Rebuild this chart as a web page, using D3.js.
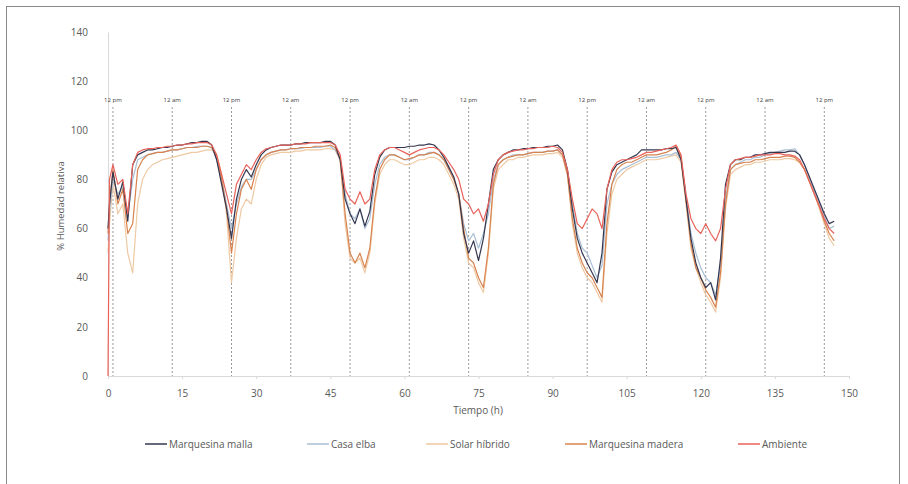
<!DOCTYPE html>
<html>
<head>
<meta charset="utf-8">
<script src="https://cdn.jsdelivr.net/npm/d3@7"></script>
<style>
  body { margin: 0; background: #fff; }
  text { font-family: "Open Sans", sans-serif; }
</style>
</head>
<body>
<script>
// horas de medicion (0.3 h añadido para el arranque)
const hours = [0, 0.3].concat(d3.range(1, 148));

const marquesinaMalla = [60, 70, 83, 72, 79, 63, 86, 90, 91, 92, 92,
  92.5, 93, 93, 93.5, 94, 94, 94.5, 95, 95, 95.5,
  95.5, 94, 88, 78, 68, 56, 72, 80, 84, 81,
  86, 90, 92, 93, 93.5, 94, 94, 94, 94.5, 94.5,
  95, 95, 95, 95, 95.5, 95.5, 94, 88, 72, 66,
  62, 68, 61, 67, 82, 89, 92, 93, 93, 93,
  93, 93.5, 93.5, 94, 94, 94.5, 94, 92, 89, 85,
  81, 74, 58, 50, 55, 47, 56, 70, 84, 88,
  90, 91, 92, 92, 92.5, 92.5, 93, 93, 93, 93.5,
  93.5, 94, 92, 84, 68, 56, 50, 46, 42, 38,
  50, 76, 83, 86, 87, 88, 89, 90, 92, 92,
  92, 92, 92, 92.5, 92.5, 93, 88, 72, 56, 46,
  40, 36, 38, 31, 48, 78, 86, 88, 88, 89,
  89, 90, 90, 90.5, 91, 91, 91, 91, 91.5, 91.5,
  90, 86, 81, 76, 71, 66, 62, 63];

const casaElba = [55, 66, 80, 74, 77, 65, 80, 88, 89, 90, 90.5,
  91, 91, 91.5, 92, 92, 92.5, 93, 93, 93.5, 93.5,
  93.5, 93, 88, 80, 70, 60, 70, 77, 80, 80,
  84, 88, 90, 91, 91.5, 92, 92, 92.5, 92.5, 92.5,
  93, 93, 93, 93, 93.5, 93.5, 92, 88, 74, 66,
  64, 68, 60, 64, 78, 86, 89, 90, 90, 89,
  88, 88, 89, 90, 90, 91, 91, 90, 88, 84,
  80, 74, 62, 55, 58, 52, 58, 66, 80, 86,
  88, 89, 90, 90, 90, 90.5, 91, 91, 91, 91.5,
  91.5, 92, 90, 84, 70, 58, 52, 50, 45, 40,
  45, 70, 78, 82, 84, 85, 86, 87, 88, 89,
  89, 89, 89.5, 90, 90, 91, 88, 74, 58, 50,
  44, 40, 38, 33, 45, 72, 84, 86, 87, 88,
  88, 89, 89, 90, 90.5, 91, 91.5, 92, 92, 92.5,
  90, 86, 80, 75, 70, 65, 60, 61];

const solarHibrido = [50, 62, 78, 66, 70, 50, 42, 70, 80, 84, 86,
  87, 88, 88.5, 89, 89.5, 90, 90.5, 91, 91, 91.5,
  92, 92, 90, 82, 66, 38, 56, 68, 72, 70,
  80, 86, 89, 90, 90.5, 91, 91, 91, 91.5, 91.5,
  92, 92, 92, 92, 92.5, 92.5, 92, 88, 62, 48,
  46, 48, 42, 50, 70, 82, 86, 88, 88, 87,
  86, 86, 87, 88, 88, 89, 89, 88, 86, 82,
  78, 72, 56, 46, 44, 38, 34, 50, 76, 84,
  86, 88, 88, 89, 89, 89.5, 90, 90, 90, 90.5,
  90.5, 91, 89, 82, 62, 50, 44, 40, 38, 34,
  30, 58, 74, 80, 82, 84, 85, 86, 87, 88,
  88, 88, 88.5, 89, 89.5, 90, 87, 70, 52, 44,
  38, 33, 30, 26, 40, 68, 82, 84, 85, 86,
  86, 87, 87, 87.5, 88, 88, 88, 88.5, 88.5, 88,
  87, 84, 79, 74, 68, 62, 56, 53];

const marquesinaMadera = [58, 70, 84, 70, 76, 58, 62, 84, 88, 90, 90.5,
  91, 91, 91.5, 92, 92, 92.5, 93, 93, 93, 93.5,
  93.5, 93, 89, 80, 68, 50, 66, 76, 80, 76,
  84, 88, 90, 91, 91.5, 92, 92, 92.5, 92.5, 93,
  93, 93, 93.5, 93.5, 93.5, 94, 93, 88, 66, 50,
  46, 50, 44, 52, 72, 84, 88, 90, 90, 89,
  88, 88.5, 89, 90, 90, 90.5, 91, 90, 88, 84,
  80, 74, 60, 48, 46, 40, 36, 52, 78, 86,
  88, 89, 89.5, 90, 90, 90.5, 91, 91, 91, 91.5,
  91.5, 92, 90, 82, 64, 52, 46, 42, 40, 36,
  32, 62, 78, 84, 86, 87, 87, 88, 89, 90,
  90, 90, 90.5, 91, 92, 93.5, 89, 72, 54, 44,
  40, 35, 32, 28, 42, 70, 84, 86, 86.5, 87,
  87, 88, 88, 88.5, 89, 89, 89, 89.5, 89.5, 89,
  87, 84, 79, 74, 69, 63, 58, 55];

const ambiente = [0, 80, 86, 78, 80, 66, 86, 91, 92, 92.5, 92.5,
  93, 93, 93.5, 93.5, 94, 94, 94.5, 94.5, 95, 95,
  95, 94, 90, 82, 74, 66, 78, 82, 86, 84,
  88, 91, 92.5, 93, 93.5, 94, 94, 94, 94.5, 94.5,
  94.5, 95, 95, 95, 95, 95, 94, 90, 76, 72,
  70, 75, 70, 72, 84, 90, 92, 93, 93, 92,
  91, 90, 91, 92, 92.5, 93, 93, 92, 90, 87,
  84, 80, 72, 70, 66, 68, 63, 70, 82, 88,
  90, 91, 91.5, 92, 92, 92.5, 92.5, 93, 93, 93,
  93.5, 93, 91, 84, 72, 62, 60, 64, 68, 66,
  60, 76, 84, 87, 88, 88, 88.5, 89, 90, 91,
  91, 91.5, 92, 92.5, 93, 94, 90, 74, 64, 60,
  58, 62, 58, 55, 60, 76, 86, 88, 88.5, 89,
  89, 89.5, 90, 90, 90, 90.5, 90.5, 90, 90, 89.5,
  88, 84, 79, 74, 69, 64, 60, 58];

const seriesNames = ['Marquesina malla', 'Casa elba', 'Solar híbrido', 'Marquesina madera', 'Ambiente'];
const seriesValues = [marquesinaMalla, casaElba, solarHibrido, marquesinaMadera, ambiente];
const seriesColors = ['#34364f', '#a9bfd4', '#efc9a3', '#d8834f', '#e8625a'];

// 12 pm / 12 am
const clockHours = [1, 13, 25, 37, 49, 61, 73, 85, 97, 109, 121, 133, 145];
const clockLabels = ['12 pm', '12 am', '12 pm', '12 am', '12 pm', '12 am', '12 pm', '12 am', '12 pm', '12 am', '12 pm', '12 am', '12 pm'];

const xTicks = [0, 15, 30, 45, 60, 75, 90, 105, 120, 135, 150];
const yTicks = [0, 20, 40, 60, 80, 100, 120, 140];

const width = 908;
const height = 484;
const svg = d3.select('body')
  .append('svg')
  .attr('width', width)
  .attr('height', height);

svg.append('rect')
  .attr('x', 6.5).attr('y', 6.5)
  .attr('width', 893).attr('height', 495)
  .attr('fill', 'none')
  .attr('stroke', '#8a8a8a');

const x = d3.scaleLinear().domain([0, 150]).range([108, 849]);
const y = d3.scaleLinear().domain([0, 140]).range([376, 32]);

// ejes
const yAxis = svg.append('g')
  .attr('transform', `translate(${x(0)},0)`)
  .call(d3.axisLeft(y).tickValues(yTicks).tickSize(0).tickPadding(20));
yAxis.select('.domain').attr('stroke', '#d9d9d9');
yAxis.selectAll('text').attr('fill', '#595959').attr('font-size', 10).style('font-family', '"Open Sans", sans-serif');

const xAxis = svg.append('g')
  .attr('transform', `translate(0,${y(0)})`)
  .call(d3.axisBottom(x).tickValues(xTicks).tickSize(3).tickPadding(11));
xAxis.select('.domain').attr('stroke', '#d9d9d9');
xAxis.selectAll('line').attr('stroke', '#d9d9d9');
xAxis.selectAll('text').attr('fill', '#595959').attr('font-size', 10).style('font-family', '"Open Sans", sans-serif');

// lineas 12 pm / 12 am
svg.selectAll('.clock')
  .data(clockHours)
  .enter()
  .append('line')
  .attr('class', 'clock')
  .attr('x1', d => x(d)).attr('x2', d => x(d))
  .attr('y1', 107).attr('y2', y(0))
  .attr('stroke', '#9a9a9a')
  .attr('stroke-width', 1)
  .attr('stroke-dasharray', '2,2');

svg.selectAll('.clockLabel')
  .data(clockHours)
  .enter()
  .append('text')
  .attr('class', 'clockLabel')
  .attr('x', d => x(d))
  .attr('y', 102)
  .attr('text-anchor', 'middle')
  .attr('font-size', 6)
  .attr('fill', '#404040')
  .text((d, i) => clockLabels[i]);

// series
const line = d3.line()
  .x((d, i) => x(hours[i]))
  .y(d => y(d));

const drawOrder = [2, 1, 3, 0, 4];
drawOrder.forEach(k => {
  svg.append('path')
    .datum(seriesValues[k])
    .attr('fill', 'none')
    .attr('stroke', seriesColors[k])
    .attr('stroke-width', 1.2)
    .attr('stroke-linejoin', 'round')
    .attr('d', line);
});

// titulos
svg.append('text')
  .attr('transform', 'translate(64,206) rotate(-90)')
  .attr('text-anchor', 'middle')
  .attr('font-size', 9.5)
  .attr('fill', '#595959')
  .text('% Humedad relativa');

svg.append('text')
  .attr('x', 478).attr('y', 414)
  .attr('text-anchor', 'middle')
  .attr('font-size', 10)
  .attr('fill', '#595959')
  .text('Tiempo (h)');

// leyenda
const legendX = [145, 307, 426, 565, 738];
const legend = svg.selectAll('.legend')
  .data(seriesNames)
  .enter()
  .append('g')
  .attr('class', 'legend')
  .attr('transform', (d, i) => `translate(${legendX[i]},444)`);

legend.append('line')
  .attr('x1', 0).attr('x2', 22)
  .attr('stroke', (d, i) => seriesColors[i])
  .attr('stroke-width', 1.5);

legend.append('text')
  .attr('x', 24).attr('y', 3.5)
  .attr('font-size', 10)
  .attr('fill', '#595959')
  .text(d => d);
</script>
</body>
</html>
